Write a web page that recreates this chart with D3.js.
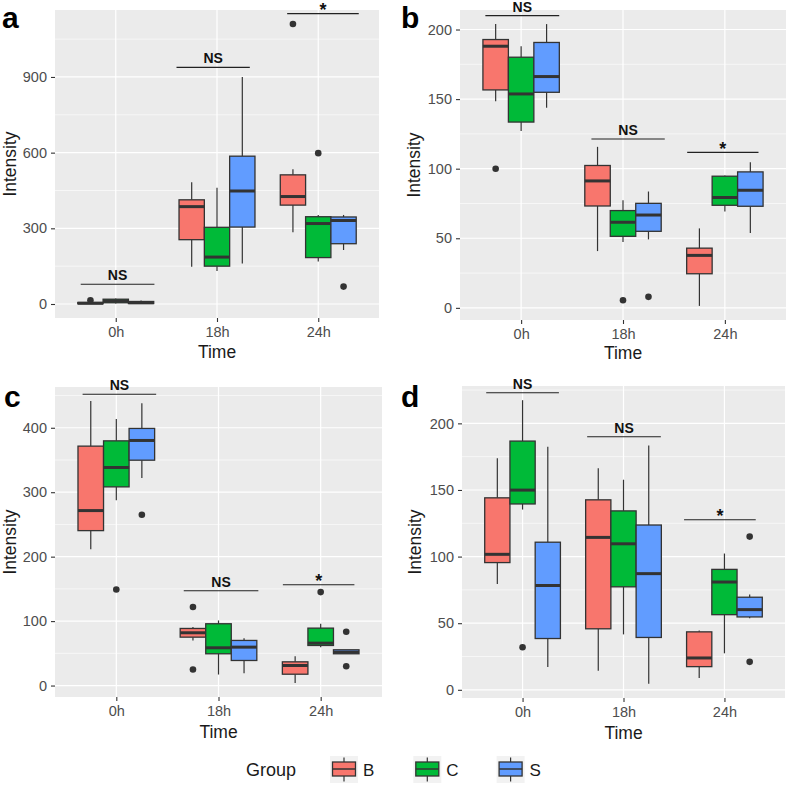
<!DOCTYPE html>
<html><head><meta charset="utf-8">
<script src="https://cdn.jsdelivr.net/npm/d3@7"></script>
<style>body{margin:0;background:#fff} svg{display:block}</style>
</head><body>
<svg id="chart" width="787" height="786"></svg>
<script>
// ---------- DATA ----------
const times = ["0h", "18h", "24h"];
const groups = ["B", "C", "S"];
const groupColors = ["#F8766D", "#00BA38", "#619CFF"];
const legendTitle = "Group";
const xTitle = "Time";
const yTitle = "Intensity";

// box stats per time×group: [lowerWhisker, q1, median, q3, upperWhisker]
const statsA = [
  [0, 1, 3, 6, 9], [2, 5, 12, 19, 22], [0, 2, 5, 10, 14],
  [148, 255, 386, 413, 483], [131, 150, 186, 304, 461], [161, 305, 448, 586, 900],
  [284, 392, 426, 512, 534], [168, 184, 319, 346, 353], [214, 239, 331, 345, 353]
];
const outliersA = [["0h", "B", 15], ["24h", "B", 1110], ["24h", "C", 598], ["24h", "S", 69]];
const ticksA = [0, 300, 600, 900];
const sigLabelsA = ["NS", "NS", "*"];
const sigLevelsA = [78, 938, 1151];

const statsB = [
  [148.4, 156.6, 188, 192.8, 203.9], [127, 133.5, 153.7, 180.1, 188], [143.8, 154.9, 166.2, 190.7, 203.9],
  [40.8, 73.2, 91.2, 102.3, 115.7], [47.3, 51.4, 61.5, 69.9, 77.3], [49.2, 55, 66.7, 75.1, 83.6],
  [1.4, 24.5, 37.7, 42.9, 57.1], [69.2, 73.7, 79.3, 94.6, 95.1], [53.8, 73, 84.5, 97.7, 104.7]
];
const outliersB = [["0h", "B", 100], ["18h", "C", 5.5], ["18h", "S", 7.9]];
const ticksB = [0, 50, 100, 150, 200];
const sigLabelsB = ["NS", "NS", "*"];
const sigLevelsB = [210, 121.3, 111.7];

const statsC = [
  [211.4, 240.4, 271.5, 371.5, 441.4], [287.6, 308.3, 338.4, 379.7, 413.5], [322.2, 349.7, 380.3, 399, 437.9],
  [69.9, 75.1, 81.9, 88.6, 90.7], [17.1, 49.3, 58.6, 95.9, 101], [19.2, 38.9, 59.6, 70, 73.5],
  [4.1, 17.6, 31.1, 36.8, 45.5], [59.6, 62.2, 65.8, 89.1, 95.9], [49.3, 49.3, 51.8, 55.5, 55.5]
];
const outliersC = [["0h", "C", 149], ["0h", "S", 265], ["18h", "B", 122], ["18h", "B", 25],
  ["24h", "C", 145], ["24h", "S", 83.5], ["24h", "S", 30]];
const ticksC = [0, 100, 200, 300, 400];
const sigLabelsC = ["NS", "NS", "*"];
const sigLevelsC = [452, 147.2, 156.5];

const statsD = [
  [79.4, 95.5, 101.7, 144.1, 173.9], [135.3, 139.5, 149.9, 186.7, 217.4], [17.1, 38.5, 78.3, 110.8, 182.4],
  [14.4, 45.8, 114.4, 142.6, 166.3], [41.6, 77.3, 109.6, 134.3, 157.7], [4.5, 39.3, 87.2, 123.7, 183.4],
  [8.8, 17.4, 23.9, 43.5, 44.6], [27.4, 56.4, 80.9, 90.4, 102.3], [53.7, 54.7, 60.2, 69.5, 71.5]
];
const outliersD = [["0h", "C", 32], ["24h", "S", 115], ["24h", "S", 21]];
const ticksD = [0, 50, 100, 150, 200];
const sigLabelsD = ["NS", "NS", "*"];
const sigLevelsD = [223, 190, 127.7];

// ---------- LAYOUT ----------
const panels = [
  {letter: "a", stats: statsA, out: outliersA, ticks: ticksA, sigL: sigLabelsA, sigV: sigLevelsA,
   x0: 55, x1: 379, y0: 10, y1: 318, lx: 2, ly: 28, tx: 10, xty: 358,
   spans: [[-0.346, 0.382], [-0.40, 0.324], [-0.307, 0.40]]},
  {letter: "b", stats: statsB, out: outliersB, ticks: ticksB, sigL: sigLabelsB, sigV: sigLevelsB,
   x0: 460, x1: 786, y0: 10, y1: 320, lx: 401, ly: 28, tx: 414, xty: 359,
   spans: [[-0.351, 0.374], [-0.31, 0.41], [-0.37, 0.33]]},
  {letter: "c", stats: statsC, out: outliersC, ticks: ticksC, sigL: sigLabelsC, sigV: sigLevelsC,
   x0: 55, x1: 382, y0: 387, y1: 697, lx: 4, ly: 407, tx: 10, xty: 738,
   spans: [[-0.33, 0.39], [-0.34, 0.39], [-0.37, 0.33]]},
  {letter: "d", stats: statsD, out: outliersD, ticks: ticksD, sigL: sigLabelsD, sigV: sigLevelsD,
   x0: 462, x1: 785, y0: 386, y1: 698, lx: 401, ly: 407, tx: 415, xty: 739,
   spans: [[-0.36, 0.36], [-0.36, 0.37], [-0.40, 0.31]]}
];

const FONT = "'Liberation Sans', Arial, sans-serif";
const svg = d3.select("#chart");
const color = d3.scaleOrdinal().domain(groups).range(groupColors);

panels.forEach(p => {
  const g = svg.append("g");
  const vals = [];
  p.stats.forEach(s => vals.push(s[0], s[4]));
  p.out.forEach(o => vals.push(o[2]));
  const mn = d3.min(vals), mx = d3.max(vals), pad = (mx - mn) * 0.05;
  const y = d3.scaleLinear().domain([mn - pad, mx + pad]).range([p.y1, p.y0]);
  const x = d3.scalePoint().domain(times).range([p.x0, p.x1]).padding(0.6);
  const step = x.step();
  const xg = d3.scaleBand().domain(groups).range([-0.375 * step, 0.375 * step]);
  const bw = xg.bandwidth();

  // panel background
  g.append("rect").attr("x", p.x0).attr("y", p.y0)
    .attr("width", p.x1 - p.x0).attr("height", p.y1 - p.y0).attr("fill", "#EBEBEB");

  // minor grid
  const tstep = p.ticks[1] - p.ticks[0];
  const dom = y.domain();
  const minors = [];
  for (let v = p.ticks[0] - tstep / 2; v <= dom[1]; v += tstep) if (v >= dom[0]) minors.push(v);
  g.selectAll(".minor").data(minors).enter().append("line")
    .attr("x1", p.x0).attr("x2", p.x1).attr("y1", d => y(d)).attr("y2", d => y(d))
    .attr("stroke", "#fff").attr("stroke-width", 0.6);
  // major grid
  g.selectAll(".major").data(p.ticks).enter().append("line")
    .attr("x1", p.x0).attr("x2", p.x1).attr("y1", d => y(d)).attr("y2", d => y(d))
    .attr("stroke", "#fff").attr("stroke-width", 1.2);
  g.selectAll(".vmajor").data(times).enter().append("line")
    .attr("x1", d => x(d)).attr("x2", d => x(d)).attr("y1", p.y0).attr("y2", p.y1)
    .attr("stroke", "#fff").attr("stroke-width", 1.2);

  // boxes
  const rows = p.stats.map((s, i) => ({t: times[Math.floor(i / 3)], grp: groups[i % 3], s}));
  const cx = d => x(d.t) + xg(d.grp) + bw / 2;
  const bg = g.append("g");
  rows.forEach(d => {
    const c = cx(d);
    bg.append("line").attr("x1", c).attr("x2", c).attr("y1", y(d.s[4])).attr("y2", y(d.s[3]))
      .attr("stroke", "#333").attr("stroke-width", 1.2);
    bg.append("line").attr("x1", c).attr("x2", c).attr("y1", y(d.s[1])).attr("y2", y(d.s[0]))
      .attr("stroke", "#333").attr("stroke-width", 1.2);
    bg.append("rect").attr("x", c - bw / 2).attr("width", bw)
      .attr("y", y(d.s[3])).attr("height", Math.max(0.5, y(d.s[1]) - y(d.s[3])))
      .attr("fill", color(d.grp)).attr("stroke", "#333").attr("stroke-width", 1.3);
    bg.append("line").attr("x1", c - bw / 2).attr("x2", c + bw / 2)
      .attr("y1", y(d.s[2])).attr("y2", y(d.s[2]))
      .attr("stroke", "#333").attr("stroke-width", 3);
  });
  // outliers
  g.selectAll(".out").data(p.out).enter().append("circle")
    .attr("cx", d => x(d[0]) + xg(d[1]) + bw / 2).attr("cy", d => y(d[2]))
    .attr("r", 3.3).attr("fill", "#333");

  // significance brackets
  times.forEach((t, i) => {
    const xa = x(t) + p.spans[i][0] * step, xb = x(t) + p.spans[i][1] * step;
    const yy = y(p.sigV[i]);
    g.append("line").attr("x1", xa).attr("x2", xb).attr("y1", yy).attr("y2", yy)
      .attr("stroke", "#222").attr("stroke-width", 1.1);
    const star = p.sigL[i] === "*";
    g.append("text").attr("x", (xa + xb) / 2).attr("y", star ? yy + 2.5 : yy - 4)
      .attr("text-anchor", "middle").attr("font-family", FONT).attr("font-weight", "bold")
      .attr("font-size", star ? 18 : 14).attr("fill", "#111").text(p.sigL[i]);
  });

  // axes
  const ya = g.append("g").attr("transform", `translate(${p.x0},0)`)
    .call(d3.axisLeft(y).tickValues(p.ticks).tickSize(4).tickPadding(4));
  const xa = g.append("g").attr("transform", `translate(0,${p.y1})`)
    .call(d3.axisBottom(x).tickSize(4).tickPadding(5));
  [ya, xa].forEach(a => {
    a.select(".domain").remove();
    a.selectAll(".tick line").attr("stroke", "#333").attr("stroke-width", 1.1);
    a.selectAll(".tick text").attr("fill", "#4D4D4D").attr("font-size", 14.5).attr("font-family", FONT);
  });

  // titles
  g.append("text").attr("transform", `translate(${p.tx},${(p.y0 + p.y1) / 2}) rotate(-90)`)
    .attr("text-anchor", "middle").attr("dominant-baseline", "central")
    .attr("font-family", FONT).attr("font-size", 17.5).attr("fill", "#1a1a1a").text(yTitle);
  g.append("text").attr("x", (p.x0 + p.x1) / 2).attr("y", p.xty)
    .attr("text-anchor", "middle").attr("font-family", FONT).attr("font-size", 17.5)
    .attr("fill", "#1a1a1a").text(xTitle);

  // panel letter
  g.append("text").attr("x", p.lx).attr("y", p.ly).attr("font-family", FONT)
    .attr("font-weight", "bold").attr("font-size", 30).attr("fill", "#000").text(p.letter);
});

// ---------- LEGEND ----------
const lg = svg.append("g");
lg.append("text").attr("x", 246).attr("y", 776).attr("font-family", FONT)
  .attr("font-size", 18).attr("fill", "#1a1a1a").text(legendTitle);
groups.forEach((grp, i) => {
  const kx = 330 + i * 83.3, ky = 756;
  lg.append("rect").attr("x", kx).attr("y", ky).attr("width", 28).attr("height", 27).attr("fill", "#F2F2F2");
  const c = kx + 14;
  lg.append("line").attr("x1", c).attr("x2", c).attr("y1", ky + 1.5).attr("y2", ky + 25.5)
    .attr("stroke", "#333").attr("stroke-width", 1.2);
  lg.append("rect").attr("x", kx + 2.5).attr("y", ky + 6).attr("width", 23).attr("height", 14)
    .attr("fill", color(grp)).attr("stroke", "#333").attr("stroke-width", 1.3);
  lg.append("line").attr("x1", kx + 2.5).attr("x2", kx + 25.5).attr("y1", ky + 13).attr("y2", ky + 13)
    .attr("stroke", "#333").attr("stroke-width", 1.5);
  lg.append("text").attr("x", kx + 33).attr("y", ky + 20).attr("font-family", FONT)
    .attr("font-size", 17).attr("fill", "#1a1a1a").text(grp);
});
</script>
</body></html>
